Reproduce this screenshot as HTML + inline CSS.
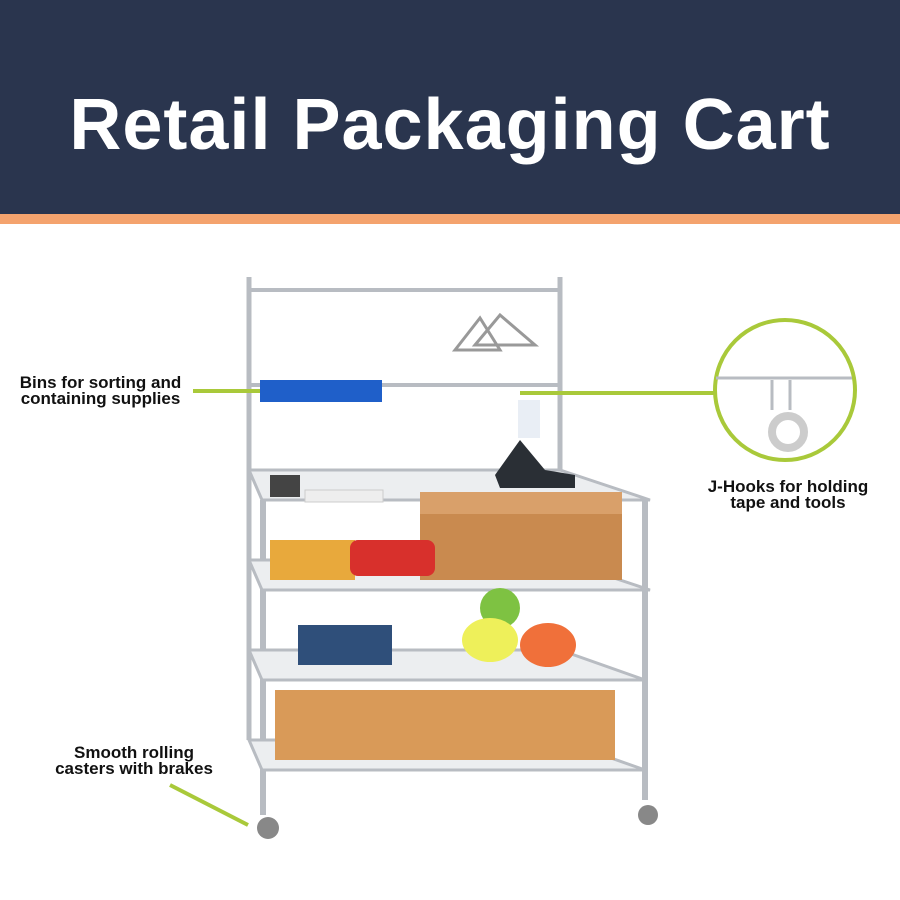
<!DOCTYPE html>
<html><head><meta charset="utf-8"><style>
body{margin:0;width:900px;height:900px;overflow:hidden;background:#fff;font-family:"Liberation Sans",sans-serif}
.hdr{position:absolute;left:0;top:0;width:900px;height:214px;background:#2a354e}
.str{position:absolute;left:0;top:214px;width:900px;height:10px;background:#f4a36e}
.t{position:absolute;left:0;top:84px;width:900px;text-align:center;color:#fff;font-weight:bold;font-size:72px;letter-spacing:1px}
.l{position:absolute;font-size:16px;font-weight:bold;color:#111;text-align:center;line-height:16px}
</style></head><body>
<div class="hdr"></div><div class="str"></div>
<div class="t">Retail Packaging Cart</div>
<svg width="900" height="900" style="position:absolute;left:0;top:0">
<g stroke="#b8bcc2" fill="none">
<line x1="249" y1="277" x2="249" y2="740" stroke-width="5"/>
<line x1="560" y1="277" x2="560" y2="500" stroke-width="5"/>
<line x1="249" y1="290" x2="560" y2="290" stroke-width="4"/>
<line x1="249" y1="385" x2="560" y2="385" stroke-width="4"/>
<line x1="263" y1="500" x2="263" y2="815" stroke-width="6"/>
<line x1="645" y1="500" x2="645" y2="800" stroke-width="6"/>
<polygon points="249,470 560,470 650,500 262,500" fill="#eceef0" stroke-width="3"/>
<polygon points="249,560 560,560 650,590 262,590" fill="#eceef0" stroke-width="3"/>
<polygon points="249,650 560,650 645,680 262,680" fill="#eceef0" stroke-width="3"/>
<polygon points="249,740 560,740 645,770 262,770" fill="#eceef0" stroke-width="3"/>
<path d="M455,350 L480,318 L500,350 Z M475,345 L500,315 L535,345 Z" stroke="#999" stroke-width="3"/>
</g>
<rect x="420" y="492" width="202" height="88" fill="#c98a4f"/>
<rect x="420" y="492" width="202" height="22" fill="#d9a06a"/>
<rect x="275" y="690" width="340" height="70" fill="#d99a58"/>
<rect x="270" y="540" width="85" height="40" fill="#e8a93c"/>
<rect x="350" y="540" width="85" height="36" rx="8" fill="#d8302c"/>
<rect x="298" y="625" width="94" height="40" fill="#2f4f7a"/>
<circle cx="500" cy="608" r="20" fill="#7ec242"/>
<ellipse cx="490" cy="640" rx="28" ry="22" fill="#eef05a"/>
<ellipse cx="548" cy="645" rx="28" ry="22" fill="#f0703a"/>
<rect x="260" y="380" width="122" height="22" fill="#1f5fc9"/>
<rect x="305" y="490" width="78" height="12" fill="#eee" stroke="#ccc"/>
<rect x="270" y="475" width="30" height="22" fill="#444"/>
<path d="M495,475 L520,440 L545,470 L575,475 L575,488 L500,488Z" fill="#2a2f35"/>
<rect x="518" y="400" width="22" height="38" fill="#e9eef5"/>
<circle cx="268" cy="828" r="11" fill="#888"/>
<circle cx="648" cy="815" r="10" fill="#888"/>
<g stroke="#a9c93a" stroke-width="4" fill="none">
<line x1="193" y1="391" x2="260" y2="391"/>
<line x1="520" y1="393" x2="716" y2="393"/>
<line x1="170" y1="785" x2="248" y2="825"/>
<circle cx="785" cy="390" r="70" fill="#fff"/>
</g>
<g stroke="#b8bcc2" stroke-width="3" fill="none">
<line x1="716" y1="378" x2="852" y2="378"/>
<path d="M772,380 v30 M790,380 v30"/>
<circle cx="788" cy="432" r="16" stroke="#ccc" stroke-width="8"/>
</g>
</svg>
<div class="l" style="left:8px;top:375px;width:185px;font-size:17px">Bins for sorting and<br>containing supplies</div>
<div class="l" style="left:688px;top:479px;width:200px;font-size:17px">J-Hooks for holding<br>tape and tools</div>
<div class="l" style="left:40px;top:745px;width:188px;font-size:17px">Smooth rolling<br>casters with brakes</div>
</body></html>
